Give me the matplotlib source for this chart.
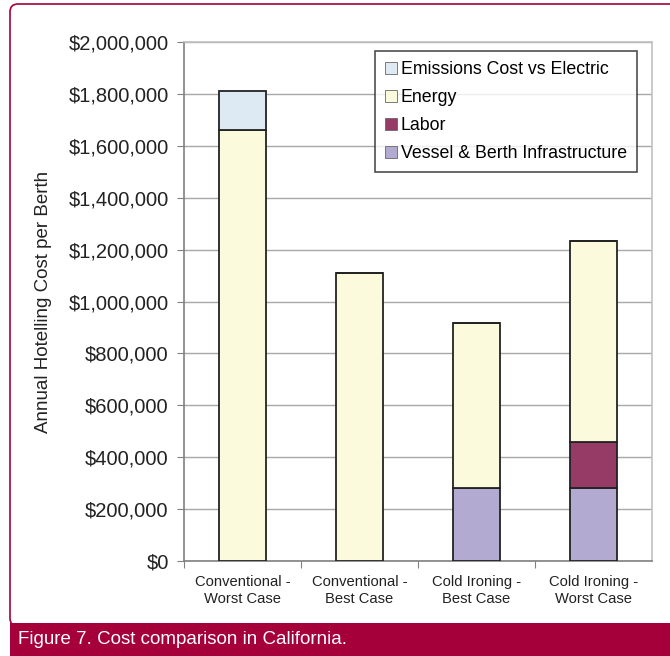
import numpy as np
import matplotlib
matplotlib.use('Agg')
import matplotlib.pyplot as plt
import matplotlib.patches as pat
from matplotlib.ticker import FuncFormatter

####################################################################################
# Data

categories = ['Conventional -\nWorst Case', 'Conventional -\nBest Case',
              'Cold Ironing -\nBest Case', 'Cold Ironing -\nWorst Case']
vessel = [0, 0, 280000, 280000]
labor = [0, 0, 0, 180000]
energy = [1660000, 1110000, 637000, 773000]
emissions = [150000, 0, 0, 0]

series_names = ['Vessel & Berth Infrastructure', 'Labor', 'Energy', 'Emissions Cost vs Electric']
series_cols = ['#B3AAD2', '#963A66', '#FCFADC', '#DDEAF3']

crimson = '#A5003A'

plt.rcParams['font.family'] = ['Liberation Sans', 'DejaVu Sans']

####################################################################################

fig = plt.figure(figsize=(6.7, 6.56), dpi=100)

# white panel with crimson border, then caption banner
panel = pat.FancyBboxPatch((10/670, 30/656), 700/670, 622/656,
                           boxstyle='round,pad=0,rounding_size=0.012',
                           transform=fig.transFigure, facecolor='white',
                           edgecolor=crimson, lw=1.2, zorder=0)
fig.patches.append(panel)
banner = pat.Rectangle((10/670, 0), 700/670, 33/656, transform=fig.transFigure,
                       facecolor=crimson, edgecolor='none', zorder=1)
fig.patches.append(banner)
fig.text(18/670, 16/656, 'Figure 7. Cost comparison in California.', color='white',
         fontsize=13.5, va='center', ha='left')

ax = fig.add_axes([184/670, 95/656, 468/670, 519/656])
ax.set_zorder(3)
ax.set_facecolor('white')

x = np.arange(len(categories))
bottom = np.zeros(len(categories))
handles = []
for vals, name, c in zip([vessel, labor, energy, emissions], series_names, series_cols):
    b = ax.bar(x, vals, 0.4, bottom=bottom, color=c, edgecolor='#222222', lw=1.3,
               label=name, zorder=3)
    handles.append(b)
    bottom = bottom + np.array(vals)

ax.set_xlim(-0.5, 3.5)
ax.set_ylim(0, 2000000)
ax.set_yticks(np.arange(0, 2000001, 200000))
ax.yaxis.set_major_formatter(FuncFormatter(lambda v, p: '${:,.0f}'.format(v)))
ax.grid(axis='y', color='#A8A8A8', lw=1, zorder=0)

ax.set_xticks([-0.5, 0.5, 1.5, 2.5])
ax.set_xticklabels([])
ax.set_xticks(x, minor=True)
ax.set_xticklabels(categories, minor=True, fontsize=10.6, color='#222222', linespacing=1.3)
ax.tick_params(axis='x', which='minor', length=0, pad=10)
ax.tick_params(axis='x', which='major', length=5, color='#808080', direction='out')
ax.tick_params(axis='y', length=5, color='#808080', labelsize=14.5, labelcolor='#222222', pad=6)

for s in ['top', 'right']:
    ax.spines[s].set_color('#C0C0C0')
for s in ['left', 'bottom']:
    ax.spines[s].set_color('#808080')
for s in ax.spines.values():
    s.set_linewidth(1.2)

ax.set_ylabel('Annual Hotelling Cost per Berth', fontsize=13.5, color='#222222', labelpad=12)

leg = ax.legend(handles[::-1], series_names[::-1], loc='upper right',
                bbox_to_anchor=(0.967, 0.982), fontsize=12.8, frameon=True, fancybox=False,
                edgecolor='#222222', handlelength=0.7, handleheight=0.7,
                handletextpad=0.2, labelspacing=0.62, borderpad=0.55, borderaxespad=0)
leg.get_frame().set_linewidth(1.2)
for h in leg.legend_handles:
    h.set_linewidth(0.6)
    h.set_edgecolor('#666666')

fig.savefig('out.png', dpi=100)
